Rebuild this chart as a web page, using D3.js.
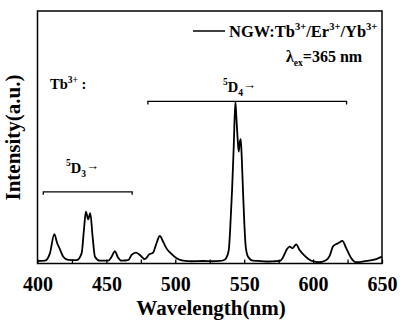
<!DOCTYPE html>
<html><head><meta charset="utf-8">
<script src="https://cdn.jsdelivr.net/npm/d3@7"></script>
<style>
body{margin:0;background:#fff}
svg{display:block}
</style>
</head><body>
<svg id="c" width="406" height="326"></svg>
<script>
// Emission spectrum (nm, a.u.)
const wavelength = [400,405.4,409,412.2,414.3,416.3,418.7,422.3,428.4,432,433.7,435.1,436.8,438.3,440,441.7,445.3,451.3,453.8,456.2,458.1,461,465.8,468.3,471.4,474.3,477.9,481,483.9,485.9,488.8,491.2,493.6,497.2,500.9,505.7,512,520,527,532.2,535,537,538.8,539.8,541.2,542.4,543.6,544.3,545.3,546,546.7,547.5,548.2,549.1,550.1,551.1,552.8,556.4,560,566,572,576,577.7,579.5,581,583,585,587.8,590.2,593.8,598.7,604.7,609.6,612,614.4,616.8,618.7,621.2,624.1,627.7,631.3,638.6,645.8,650];
const intensity  = [1,1.1,4,11.6,8,5.6,2.7,1.4,1.3,4,13.3,20.5,17.5,19.9,10.6,2.7,1.1,1.1,2.7,4.9,2.7,1.1,1.3,3.4,4.3,3.4,1.7,3.6,4.3,7.3,10.9,8.6,6,3.8,2.1,1.1,0.9,1,0.9,1,1.3,2.2,5.3,13.3,29.1,46.3,64.1,58.1,48.9,44.3,47.7,49.2,42.3,29.1,15.9,6.7,2.7,1.1,1,0.8,0.9,1,2,4,5.6,6.7,6,7.6,5.3,3.1,1.1,0.5,1.4,3,6.7,7.7,8.2,9,6,2.1,0.5,1,1.7,2.7];
const xTicks = [400,425,450,475,500,525,550,575,600,625,650];
const xLabelStep = 50;
const bracket5D4 = [480.1, 624.3]; const bracket5D4Level = 64.2;
const bracket5D3 = [404.2, 468.7]; const bracket5D3Level = 28.4;

const FONT = "'Liberation Serif'";
const svg = d3.select("#c");
const x = d3.scaleLinear().domain([400,650]).range([37.5,382]);
const y = d3.scaleLinear().domain([0,100]).range([263.5,11]);

// axis
const ax = svg.append("g").attr("transform","translate(0,263.5)")
  .call(d3.axisBottom(x).tickValues(xTicks).tickSize(-4).tickPadding(13)
    .tickFormat(d => d % xLabelStep === 0 ? d : ""));
ax.select(".domain").remove();
ax.attr("font-family", null).attr("font-size", null);
ax.selectAll(".tick line").attr("stroke","#000").attr("stroke-width",1.3);
ax.selectAll(".tick text").attr("font-size",20).attr("font-weight","bold").attr("fill","#000")
  .style("font-family",FONT);

// frame
svg.append("rect").attr("x",x(400)).attr("y",y(100)).attr("width",x(650)-x(400)).attr("height",y(0)-y(100))
  .attr("fill","none").attr("stroke","#000").attr("stroke-width",1.5);

// spectrum
const pts = wavelength.map((w,i)=>[w,intensity[i]]);
svg.append("path").datum(pts)
  .attr("fill","none").attr("stroke","#000").attr("stroke-width",1.8).attr("stroke-linejoin","round")
  .attr("d", d3.line().x(d=>x(d[0])).y(d=>y(d[1])).curve(d3.curveMonotoneX));

// brackets
function bracket(r, lvl){
  const yy = y(lvl);
  svg.append("path").attr("fill","none").attr("stroke","#000").attr("stroke-width",1.3)
    .attr("d", `M${x(r[0])},${yy+3}V${yy}H${x(r[1])}V${yy+3}`);
}
bracket(bracket5D4, bracket5D4Level);
bracket(bracket5D3, bracket5D3Level);

function T(size){ return svg.append("text").attr("font-size",size).attr("font-weight","bold").attr("fill","#000").style("font-family",FONT); }

// axis titles
T(21).attr("x",211).attr("y",315).attr("text-anchor","middle").text("Wavelength(nm)");
T(21).attr("transform","translate(20,137.5) rotate(-90)").attr("text-anchor","middle").text("Intensity(a.u.)");

// legend
svg.append("line").attr("x1",193).attr("x2",225).attr("y1",31).attr("y2",31).attr("stroke","#000").attr("stroke-width",1.5);
const lg = T(16.5).attr("x",229).attr("y",37);
lg.append("tspan").text("NGW:Tb");
lg.append("tspan").attr("font-size",10.5).attr("dy",-7).text("3+");
lg.append("tspan").attr("dy",7).text("/Er");
lg.append("tspan").attr("font-size",10.5).attr("dy",-7).text("3+");
lg.append("tspan").attr("dy",7).text("/Yb");
lg.append("tspan").attr("font-size",10.5).attr("dy",-7).text("3+");

// excitation
const ex = T(16).attr("x",286).attr("y",62);
ex.append("tspan").text("λ");
ex.append("tspan").attr("font-size",9.5).attr("dy",4).text("ex");
ex.append("tspan").attr("dy",-4).text("=365 nm");

// Tb3+:
const tb = T(14.5).attr("x",50).attr("y",89.3);
tb.append("tspan").text("Tb");
tb.append("tspan").attr("font-size",9.5).attr("dy",-6.5).text("3+");
tb.append("tspan").attr("dy",6.5).text(" :");

// 5D4 ->, 5D3 ->
function level(xp, yp, sub){
  const t = T(14.5).attr("x",xp).attr("y",yp);
  t.append("tspan").attr("font-size",9.5).attr("dy",-6.5).text("5");
  t.append("tspan").attr("dy",6.5).text("D");
  t.append("tspan").attr("font-size",9.5).attr("dy",4).text(sub);
  t.append("tspan").attr("font-size",13).attr("dy",-7).text("→");
}
level(223, 91.7, "4");
level(66, 172.7, "3");
</script>
</body></html>
